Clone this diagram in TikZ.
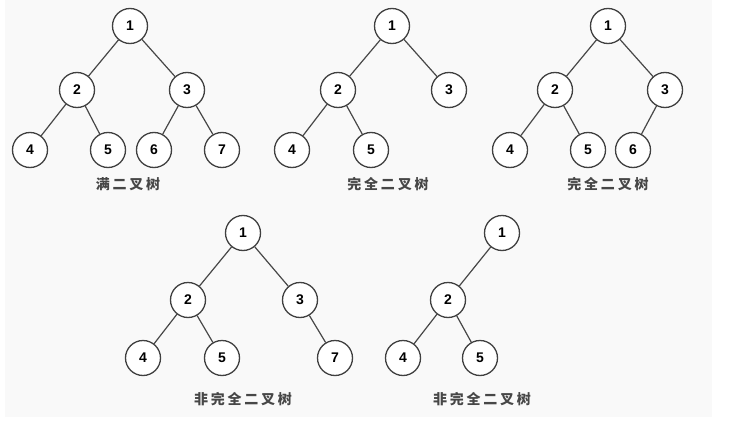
\documentclass[tikz,border=0pt]{standalone}
\usepackage{fontspec}
\setmainfont{Liberation Sans}
\newfontfamily\cjk[LetterSpace=20]{Noto Sans CJK SC}
\usetikzlibrary{calc}

\begin{document}
\begin{tikzpicture}[x=1pt,y=-1pt,
    vertex/.style={circle,draw=black!75,line width=1.3pt,fill=white,
        minimum size=35pt,inner sep=0pt,font=\fontsize{14}{14}\selectfont\bfseries},
    caption/.style={font=\cjk\fontsize{14}{14}\selectfont\bfseries,text=black!72},
    edge/.style={draw=black!72,line width=1.2pt}]
    \useasboundingbox (0,0) rectangle (737,423);
    \fill[white] (0,0) rectangle (737,423);
    \fill[black!2.5] (5,0) rectangle (712,417);
    % full tree
    \node[vertex] (a1) at (130,26) {1};
    \node[vertex] (a2) at (77,90) {2};
    \node[vertex] (a3) at (187,90) {3};
    \node[vertex] (a4) at (30,150) {4};
    \node[vertex] (a5) at (108,150) {5};
    \node[vertex] (a6) at (154,150) {6};
    \node[vertex] (a7) at (222,150) {7};
    \node[caption] (la) at (128,184) {满二叉树};
    \draw[edge] (a1) -- (a2);
    \draw[edge] (a1) -- (a3);
    \draw[edge] (a2) -- (a4);
    \draw[edge] (a2) -- (a5);
    \draw[edge] (a3) -- (a6);
    \draw[edge] (a3) -- (a7);
    % complete tree
    \node[vertex] (b1) at (392,26) {1};
    \node[vertex] (b2) at (338,90) {2};
    \node[vertex] (b3) at (449,90) {3};
    \node[vertex] (b4) at (292,150) {4};
    \node[vertex] (b5) at (371,150) {5};
    \node[caption] (lb) at (388,184) {完全二叉树};
    \draw[edge] (b1) -- (b2);
    \draw[edge] (b1) -- (b3);
    \draw[edge] (b2) -- (b4);
    \draw[edge] (b2) -- (b5);
    % complete tree
    \node[vertex] (c1) at (608,26) {1};
    \node[vertex] (c2) at (555,90) {2};
    \node[vertex] (c3) at (665,90) {3};
    \node[vertex] (c4) at (510,150) {4};
    \node[vertex] (c5) at (588,150) {5};
    \node[vertex] (c6) at (633,150) {6};
    \node[caption] (lc) at (608,184) {完全二叉树};
    \draw[edge] (c1) -- (c2);
    \draw[edge] (c1) -- (c3);
    \draw[edge] (c2) -- (c4);
    \draw[edge] (c2) -- (c5);
    \draw[edge] (c3) -- (c6);
    % not complete
    \node[vertex] (d1) at (243,233) {1};
    \node[vertex] (d2) at (188,300) {2};
    \node[vertex] (d3) at (300,300) {3};
    \node[vertex] (d4) at (143,358) {4};
    \node[vertex] (d5) at (222,358) {5};
    \node[vertex] (d7) at (335,358) {7};
    \node[caption] (ld) at (243,399) {非完全二叉树};
    \draw[edge] (d1) -- (d2);
    \draw[edge] (d1) -- (d3);
    \draw[edge] (d2) -- (d4);
    \draw[edge] (d2) -- (d5);
    \draw[edge] (d3) -- (d7);
    % not complete
    \node[vertex] (e1) at (502,233) {1};
    \node[vertex] (e2) at (448,300) {2};
    \node[vertex] (e4) at (403,358) {4};
    \node[vertex] (e5) at (480,358) {5};
    \node[caption] (le) at (482,399) {非完全二叉树};
    \draw[edge] (e1) -- (e2);
    \draw[edge] (e2) -- (e4);
    \draw[edge] (e2) -- (e5);
\end{tikzpicture}
\end{document}
